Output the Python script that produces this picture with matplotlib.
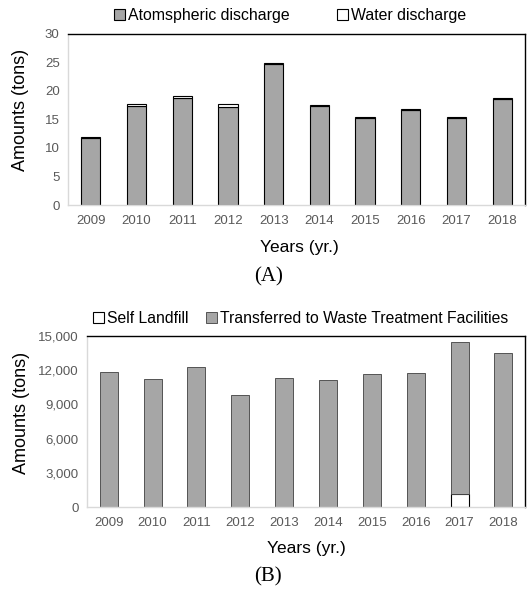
import matplotlib.pyplot as plt
from matplotlib.ticker import FuncFormatter
import numpy as np

years = ["2009", "2010", "2011", "2012", "2013", "2014", "2015", "2016", "2017", "2018"]

# (A) discharges, tons
atmospheric = [11.7, 17.4, 18.7, 17.1, 24.7, 17.4, 15.3, 16.7, 15.3, 18.6]
water = [0.3, 0.4, 0.35, 0.7, 0.2, 0.1, 0.1, 0.1, 0.1, 0.1]

# (B) waste, tons
self_landfill = [60, 40, 50, 50, 0, 20, 40, 50, 1160, 0]
transferred = [11760, 11150, 12210, 9740, 11300, 11130, 11610, 11720, 13260, 13460]

plt.rcParams['font.family'] = ['Liberation Sans', 'DejaVu Sans']

GRAY = '#a6a6a6'
TICK = '#595959'


def style_axes(ax):
    ax.spines['left'].set_color('#d9d9d9')
    ax.spines['bottom'].set_color('#d9d9d9')
    ax.spines['top'].set_color('black')
    ax.spines['right'].set_color('black')
    for s in ax.spines.values():
        s.set_linewidth(1.0)
    ax.tick_params(axis='both', length=0, colors=TICK, labelsize=9.5)
    ax.tick_params(axis='x', pad=7)
    ax.tick_params(axis='y', pad=6)


fig = plt.figure(figsize=(5.29, 5.90), dpi=100)
x = np.arange(len(years))

# panel A
ax1 = fig.add_axes([0.1285, 0.6525, 0.864, 0.29])
ax1.bar(x, atmospheric, width=0.42, color=GRAY, edgecolor='black', linewidth=0.8,
        label='Atomspheric discharge')
ax1.bar(x, water, width=0.42, bottom=atmospheric, color='white', edgecolor='black',
        linewidth=0.8, label='Water discharge')
ax1.set_xlim(-0.5, len(years) - 0.5)
ax1.set_ylim(0, 30)
ax1.set_yticks(range(0, 31, 5))
ax1.set_xticks(x)
ax1.set_xticklabels(years)
style_axes(ax1)
ax1.set_ylabel('Amounts (tons)', fontsize=13, va='center')
ax1.yaxis.set_label_coords(-0.103, 0.555)
ax1.set_xlabel('Years (yr.)', fontsize=12.5, va='center')
ax1.xaxis.set_label_coords(0.506, -0.246)
ax1.legend(loc='center', bbox_to_anchor=(0.486, 1.11), ncol=2, frameon=False,
           fontsize=11.4, handlelength=0.7, handleheight=0.7, handletextpad=0.2,
           columnspacing=3.0, borderaxespad=0)

# panel B
ax2 = fig.add_axes([0.164, 0.140, 0.829, 0.291])
ax2.bar(x, self_landfill, width=0.41, color='white', edgecolor='black', linewidth=0.8,
        label='Self Landfill')
ax2.bar(x, transferred, width=0.41, bottom=self_landfill, color=GRAY, edgecolor='#404040',
        linewidth=0.6, label='Transferred to Waste Treatment Facilities')
ax2.set_xlim(-0.5, len(years) - 0.5)
ax2.set_ylim(0, 15000)
ax2.set_yticks(range(0, 15001, 3000))
ax2.yaxis.set_major_formatter(FuncFormatter(lambda v, p: f"{int(v):,}"))
ax2.set_xticks(x)
ax2.set_xticklabels(years)
style_axes(ax2)
ax2.set_ylabel('Amounts (tons)', fontsize=13, va='center')
ax2.yaxis.set_label_coords(-0.149, 0.55)
ax2.set_xlabel('Years (yr.)', fontsize=12.5, va='center')
ax2.xaxis.set_label_coords(0.5, -0.237)
ax2.legend(loc='center', bbox_to_anchor=(0.488, 1.10), ncol=2, frameon=False,
           fontsize=11.3, handlelength=0.7, handleheight=0.7, handletextpad=0.2,
           columnspacing=1.1, borderaxespad=0)

fig.text(0.507, 0.531, '(A)', ha='center', va='center', fontsize=15,
         family='Liberation Serif')
fig.text(0.507, 0.022, '(B)', ha='center', va='center', fontsize=15,
         family='Liberation Serif')

fig.savefig('out.png', dpi=100, facecolor='white')
